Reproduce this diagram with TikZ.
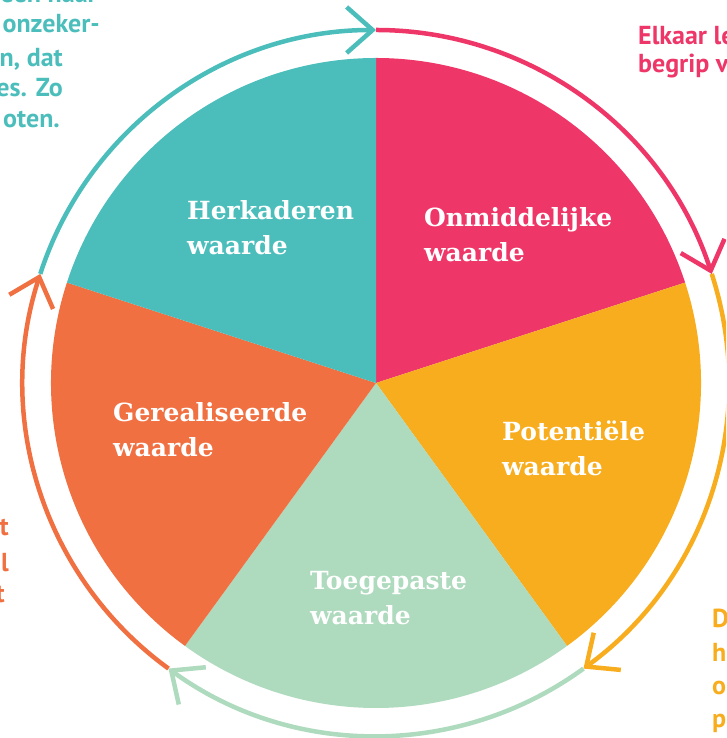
\documentclass[tikz,border=0pt]{standalone}
\usepackage{fontspec}
\setmainfont{DejaVu Serif}
\newfontfamily\sidefont{PT Sans}
\usetikzlibrary{arrows.meta}
\definecolor{cpink}{HTML}{EE3768}
\definecolor{cyell}{HTML}{F7AD1E}
\definecolor{cgreen}{HTML}{AEDABE}
\definecolor{corange}{HTML}{F07042}
\definecolor{cteal}{HTML}{4BBEBC}
\tikzset{
  wedgelabel/.style={anchor=base west, align=left, text=white, inner sep=0pt,
    font=\fontsize{25}{35}\selectfont\bfseries},
  sidetext/.style={inner sep=0pt, font=\sidefont\bfseries\fontsize{26}{30}\selectfont},
  ring/.style={line width=4.5pt, line cap=butt,
    -{Straight Barb[length=26pt,width=46pt,line width=4.5pt]}},
}
\begin{document}
\begin{tikzpicture}[x=1pt,y=1pt]
\useasboundingbox (0,0) rectangle (726,738);
\clip (0,0) rectangle (726,738);
\coordinate (C) at (376,355);
% wedges
\fill[cpink]   (C) -- ++(90:325)  arc[start angle=90,  end angle=18,   radius=325] -- cycle;
\fill[cyell]   (C) -- ++(18:325)  arc[start angle=18,  end angle=-54,  radius=325] -- cycle;
\fill[cgreen]  (C) -- ++(-54:325) arc[start angle=-54, end angle=-126, radius=325] -- cycle;
\fill[corange] (C) -- ++(-126:325) arc[start angle=-126, end angle=-198, radius=325] -- cycle;
\fill[cteal]   (C) -- ++(162:325) arc[start angle=162, end angle=90,  radius=325] -- cycle;
% ring arrows
\draw[ring, cteal]   (C) ++(162:353) arc[start angle=162, end angle=90,   radius=353];
\draw[ring, cpink]   (C) ++(90:353)  arc[start angle=90,  end angle=18,   radius=353];
\draw[ring, cyell]   (C) ++(18:353)  arc[start angle=18,  end angle=-54,  radius=353];
\draw[ring, cgreen]  (C) ++(-54:353) arc[start angle=-54, end angle=-126, radius=353];
\draw[ring, corange] (C) ++(-126:353) arc[start angle=-126, end angle=-198, radius=353];
% wedge labels
\node[wedgelabel] (herk) at (187,483) {Herkaderen\\waarde};
\node[wedgelabel] (onm)  at (424,476) {Onmiddelijke\\waarde};
\node[wedgelabel] (pot)  at (502,262) {Potentiële\\waarde};
\node[wedgelabel] (toeg) at (310,113) {Toegepaste\\waarde};
\node[wedgelabel] (ger)  at (113,281) {Gerealiseerde\\waarde};
% side texts (cropped)
\node[sidetext, text=cteal, anchor=base east] (t1) at (97,735) {een naar};
\node[sidetext, text=cteal, anchor=base east] (t2) at (100,705) {onzeker-};
\node[sidetext, text=cteal, anchor=base east] (t3) at (63,671) {n, dat};
\node[sidetext, text=cteal, anchor=base east] (t4) at (63,641) {es. Zo};
\node[sidetext, text=cteal, anchor=base east] (t5) at (60,610) {oten.};
\node[sidetext, text=cpink, anchor=base west] (p1) at (638,693) {Elkaar le};
\node[sidetext, text=cpink, anchor=base west] (p2) at (638,665) {begrip v};
\node[sidetext, text=corange, anchor=base east] (o1) at (9,202) {t};
\node[sidetext, text=corange, anchor=base east] (o2) at (9,166) {l};
\node[sidetext, text=corange, anchor=base east] (o3) at (5,135) {t};
\node[sidetext, text=cyell, anchor=base west] (y1) at (712,110) {D};
\node[sidetext, text=cyell, anchor=base west] (y2) at (712,76) {h};
\node[sidetext, text=cyell, anchor=base west] (y3) at (712,43) {o};
\node[sidetext, text=cyell, anchor=base west] (y4) at (712,10) {p};
\end{tikzpicture}
\end{document}
